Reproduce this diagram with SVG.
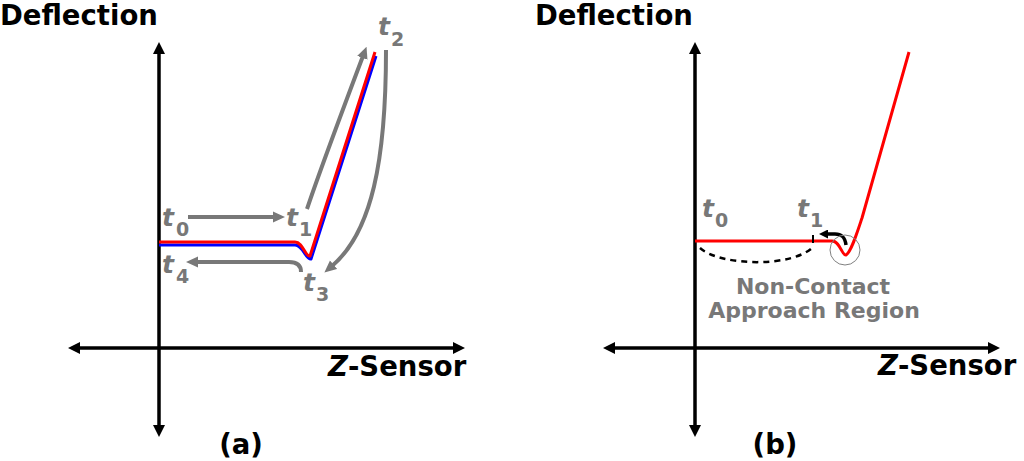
<svg xmlns="http://www.w3.org/2000/svg" width="1024" height="461" viewBox="0 0 1024 461">
<style>
text{font-family:"DejaVu Sans","Liberation Sans",sans-serif;font-weight:bold}
.lbl{font-size:27.5px;fill:#000}
.t{font-size:25px;fill:#787878;font-style:italic}
.sub{font-size:19px;fill:#787878;font-style:normal}
.gt{font-size:22px;fill:#787878;text-anchor:middle}
.axis{fill:none;stroke:#000;stroke-width:3.5;marker-start:url(#ah);marker-end:url(#ah)}
.garrow{fill:none;stroke:#787878;stroke-width:4;marker-end:url(#gh)}
.red{fill:none;stroke:#ff0000;stroke-width:3;stroke-linejoin:round}
.blue{fill:none;stroke:#0000ff;stroke-width:3;stroke-linejoin:round}
</style>
<defs>
<marker id="ah" markerUnits="userSpaceOnUse" markerWidth="12" markerHeight="12" refX="2" refY="6" orient="auto-start-reverse"><path d="M0,0 L12,6 L0,12 z" fill="#000"/></marker>
<marker id="gh" markerUnits="userSpaceOnUse" markerWidth="12" markerHeight="12" refX="2" refY="6" orient="auto"><path d="M0,0.5 L12,6 L0,11.5 z" fill="#787878"/></marker>
<marker id="bh" markerUnits="userSpaceOnUse" markerWidth="9" markerHeight="9" refX="1" refY="4.5" orient="auto"><path d="M0,0 L9,4.5 L0,9 z" fill="#000"/></marker>
</defs>

<g id="panel-a-axes">
<path class="axis" d="M159,52 V427"/>
<path class="axis" d="M78,348 H455"/>
<text class="lbl" x="0" y="25">Deflection</text>
<text class="lbl" x="328" y="376" font-size="28"><tspan font-style="italic">Z</tspan>-Sensor</text>
<text class="lbl" x="241" y="454" text-anchor="middle">(a)</text>
</g>

<g id="panel-a-curves">
<path class="blue" d="M159,245 H295 C303,245 306,260 311,259 L376,56"/>
<path class="red" d="M159,242 H295 C303,242 305,257 310,256 L375,52"/>
</g>

<g id="panel-a-connectors">
<path class="garrow" d="M188,217 H275"/>
<path class="garrow" d="M307,209 Q320,170 363,56"/>
<path class="garrow" d="M386,50 C386,160 372,232 332,266"/>
<path class="garrow" d="M301,272 C301,265 297,262 289,262 H196"/>
</g>

<g id="panel-a-labels">
<text class="t" x="162" y="226">t<tspan class="sub" x="176" y="236">0</tspan></text>
<text class="t" x="286" y="226">t<tspan class="sub" x="299" y="236">1</tspan></text>
<text class="t" x="378" y="35">t<tspan class="sub" x="391" y="46">2</tspan></text>
<text class="t" x="303" y="291">t<tspan class="sub" x="316" y="301">3</tspan></text>
<text class="t" x="162" y="273">t<tspan class="sub" x="176" y="283">4</tspan></text>
</g>

<g id="panel-b-axes">
<path class="axis" d="M695,52 V427"/>
<path class="axis" d="M613,348 H990"/>
<text class="lbl" x="535" y="25">Deflection</text>
<text class="lbl" x="878" y="375" font-size="28"><tspan font-style="italic">Z</tspan>-Sensor</text>
<text class="lbl" x="775" y="454" text-anchor="middle">(b)</text>
</g>

<g id="panel-b-curve">
<path class="red" d="M695,241 H832 C840,241 842,256 846,255 C851,252 856,236 862,218 L909,52"/>
</g>

<g id="panel-b-connectors">
<path d="M700,248 C720,266 792,268 813,247" fill="none" stroke="#000" stroke-width="2.5" stroke-dasharray="6 5"/>
<path d="M813,235 V243" stroke="#000" stroke-width="2"/>
<path d="M846,245 C845,237 842,234 835,234 H827" fill="none" stroke="#000" stroke-width="3.5" marker-end="url(#bh)"/>
<circle cx="845" cy="250" r="15" fill="none" stroke="#808080" stroke-width="1"/>
</g>

<g id="panel-b-labels">
<text class="t" x="702" y="217">t<tspan class="sub" x="715" y="227">0</tspan></text>
<text class="t" x="797" y="217">t<tspan class="sub" x="810" y="227">1</tspan></text>
<text class="gt" x="813" y="294">Non-Contact</text>
<text class="gt" x="814" y="318">Approach Region</text>
</g>
</svg>
